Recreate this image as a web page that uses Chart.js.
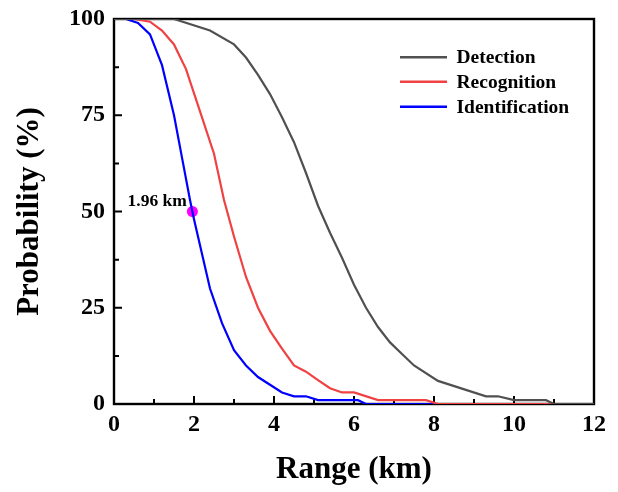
<!DOCTYPE html>
<html><head><meta charset="utf-8">
<script src="https://cdn.jsdelivr.net/npm/chart.js@4"></script>
<style>html,body{margin:0;padding:0;background:#fff}#wrap{width:618px;height:492px}</style>
</head><body><div id="wrap"><canvas id="c" width="618" height="492"></canvas></div>
<script>
const seriesNames = ['Detection', 'Recognition', 'Identification'];
const seriesColors = ['#505050', '#f04242', '#0000ff'];

const detectionRange = [0, 1.5, 2.4, 3.0, 3.3, 3.6, 3.9, 4.2, 4.5, 4.8, 5.1, 5.4, 5.7, 6.0, 6.3, 6.6, 6.9, 7.2, 7.5, 8.1, 8.7, 9.3, 9.6, 10.0, 10.8, 11.0, 12];
const detectionProb  = [100, 100, 97, 93.4, 90, 85.5, 80.5, 74.5, 68, 60, 51.5, 44.5, 38, 31, 25, 20, 16, 13, 10, 6, 4, 2, 2, 1, 1, 0, 0];

const recognitionRange = [0, 0.5, 0.9, 1.2, 1.5, 1.8, 2.15, 2.5, 2.75, 3.0, 3.3, 3.6, 3.9, 4.2, 4.5, 4.8, 5.1, 5.4, 5.7, 6.0, 6.6, 7.8, 8.1, 12];
const recognitionProb  = [100, 100, 99.3, 97, 93.4, 87, 76, 65, 53, 43.5, 33, 25, 19, 14.4, 10, 8.4, 6.2, 4.1, 3, 3, 1, 1, 0, 0];

const identificationRange = [0, 0.3, 0.6, 0.9, 1.2, 1.5, 1.7, 1.9, 2.0, 2.4, 2.7, 3.0, 3.3, 3.6, 3.9, 4.2, 4.5, 4.8, 5.1, 6.1, 6.3, 12];
const identificationProb  = [100, 100, 99, 96, 88, 75, 64, 53, 48, 30, 21, 14, 10, 7, 5, 3, 2, 2, 1, 1, 0, 0];

const markerRange = [1.96];
const markerProb = [50];
const markerLabel = '1.96 km';

const xTicks = [0, 2, 4, 6, 8, 10, 12];
const xMinorTicks = [1, 3, 5, 7, 9, 11];
const yTicks = [0, 25, 50, 75, 100];
const yMinorTicks = [12.5, 37.5, 62.5, 87.5];

const FONT = "'Liberation Serif', 'Times New Roman', serif";

function pts(xs, ys) { return xs.map((x, i) => ({x: x, y: ys[i]})); }

const frameAndTicks = {
  id: 'frameAndTicks',
  beforeDatasetsDraw(chart) {
    const {ctx, chartArea: a, scales} = chart;
    ctx.save();
    ctx.strokeStyle = '#000';
    ctx.lineWidth = 2;
    const xs = scales.x, ys = scales.y;
    ctx.beginPath();
    xTicks.forEach(v => { const p = xs.getPixelForValue(v); ctx.moveTo(p, a.bottom); ctx.lineTo(p, a.bottom - 8); });
    xMinorTicks.forEach(v => { const p = xs.getPixelForValue(v); ctx.moveTo(p, a.bottom); ctx.lineTo(p, a.bottom - 5); });
    yTicks.forEach(v => { const p = ys.getPixelForValue(v); ctx.moveTo(a.left, p); ctx.lineTo(a.left + 8, p); });
    yMinorTicks.forEach(v => { const p = ys.getPixelForValue(v); ctx.moveTo(a.left, p); ctx.lineTo(a.left + 5, p); });
    ctx.stroke();
    ctx.lineWidth = 2.4;
    ctx.strokeRect(a.left, a.top, a.right - a.left, a.bottom - a.top);
    ctx.restore();
  },
  afterDatasetsDraw(chart) {
    const {ctx, chartArea: a, scales} = chart;
    ctx.save();
    // legend
    const ly = [57.3, 81.7, 106.7];
    seriesNames.forEach((n, i) => {
      ctx.strokeStyle = seriesColors[i];
      ctx.lineWidth = 2.6;
      ctx.beginPath();
      ctx.moveTo(400, ly[i]); ctx.lineTo(447, ly[i]);
      ctx.stroke();
      ctx.fillStyle = '#000';
      ctx.font = "bold 19.5px " + FONT;
      ctx.textAlign = 'left';
      ctx.textBaseline = 'middle';
      ctx.fillText(n, 456.5, ly[i] + 1);
    });
    // marker label
    const px = scales.x.getPixelForValue(markerRange[0]);
    const py = scales.y.getPixelForValue(markerProb[0]);
    ctx.font = "bold 17.5px " + FONT;
    ctx.textAlign = 'right';
    ctx.textBaseline = 'middle';
    ctx.fillStyle = '#000';
    ctx.fillText(markerLabel, px - 5.5, py - 10);
    ctx.restore();
  }
};

new Chart(document.getElementById('c'), {
  type: 'scatter',
  data: {
    datasets: [
      {label: seriesNames[0], data: pts(detectionRange, detectionProb), showLine: true, borderColor: seriesColors[0], borderWidth: 2.2, pointRadius: 0, fill: false, tension: 0},
      {label: seriesNames[1], data: pts(recognitionRange, recognitionProb), showLine: true, borderColor: seriesColors[1], borderWidth: 2.2, pointRadius: 0, fill: false, tension: 0},
      {label: seriesNames[2], data: pts(identificationRange, identificationProb), showLine: true, borderColor: seriesColors[2], borderWidth: 2.2, pointRadius: 0, fill: false, tension: 0},
      {label: 'marker', data: pts(markerRange, markerProb), showLine: false, pointRadius: 5.5, backgroundColor: '#ff00ff', borderWidth: 0, clip: false}
    ]
  },
  options: {
    responsive: false,
    animation: false,
    devicePixelRatio: 1,
    layout: {padding: {top: 19, right: 24, left: 0, bottom: 0}},
    plugins: {legend: {display: false}, tooltip: {enabled: false}},
    scales: {
      x: {
        type: 'linear', min: 0, max: 12,
        afterBuildTicks(s) { s.ticks = xTicks.map(v => ({value: v})); },
        afterFit(s) { s.height = 88; s.paddingLeft = 0; s.paddingRight = 0; },
        grid: {display: false, drawTicks: false, tickLength: 0},
        border: {display: false},
        ticks: {color: '#000', padding: 6, maxRotation: 0, font: {family: FONT, size: 24, weight: 'bold'}},
        title: {display: true, text: 'Range (km)', color: '#000', padding: {top: 0, bottom: 3}, font: {family: FONT, size: 31, weight: 'bold'}}
      },
      y: {
        type: 'linear', min: 0, max: 100,
        afterBuildTicks(s) { s.ticks = yTicks.map(v => ({value: v})); },
        afterFit(s) { s.width = 114; s.paddingTop = 0; s.paddingBottom = 0; },
        grid: {display: false, drawTicks: false, tickLength: 0},
        border: {display: false},
        ticks: {color: '#000', padding: 9, font: {family: FONT, size: 24, weight: 'bold'}},
        title: {display: true, text: 'Probability (%)', color: '#000', padding: {top: 11, bottom: 0}, font: {family: FONT, size: 31, weight: 'bold'}}
      }
    }
  },
  plugins: [frameAndTicks]
});
</script></body></html>
